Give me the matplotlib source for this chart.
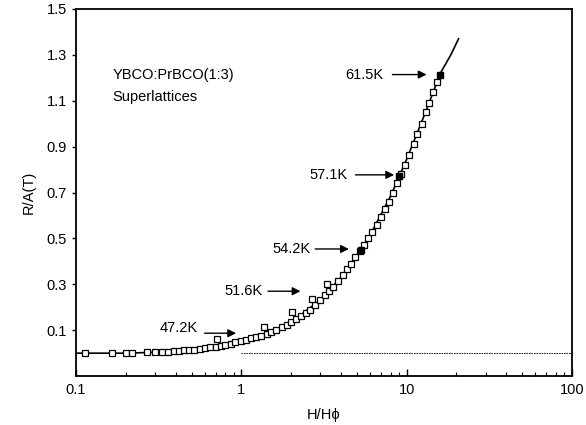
import numpy as np
import matplotlib
matplotlib.use("Agg")
import matplotlib.pyplot as plt
from matplotlib.ticker import NullFormatter

# --- data ---
h_open = [0.113, 0.165, 0.2, 0.218, 0.27, 0.3, 0.33, 0.36, 0.39, 0.42, 0.45,
          0.48, 0.52, 0.56, 0.6, 0.65, 0.7, 0.75, 0.8, 0.86, 0.92, 1.0, 1.07,
          1.15, 1.23, 1.32, 1.42, 1.52, 1.63, 1.75, 1.88, 2.0, 2.15, 2.3, 2.45,
          2.6, 2.8, 3.0, 3.2, 3.4, 3.6, 3.85, 4.1, 4.35, 4.6, 4.9, 5.2, 5.5,
          5.85, 6.2, 6.6, 7.0, 7.4, 7.8, 8.3, 8.8, 9.3, 9.8, 10.4, 11.0, 11.6,
          12.3, 13.0, 13.7, 14.5, 15.3]
r_open = [0.0, 0.0, 0.0, 0.0, 0.003, 0.004, 0.005, 0.007, 0.008, 0.01, 0.012,
          0.014, 0.016, 0.019, 0.022, 0.025, 0.029, 0.033, 0.037, 0.042, 0.047,
          0.053, 0.058, 0.064, 0.07, 0.077, 0.085, 0.093, 0.102, 0.112, 0.123,
          0.134, 0.148, 0.162, 0.176, 0.19, 0.21, 0.232, 0.252, 0.272, 0.29,
          0.315, 0.34, 0.365, 0.39, 0.42, 0.445, 0.47, 0.5, 0.53, 0.56, 0.593,
          0.627, 0.66, 0.7, 0.74, 0.78, 0.82, 0.865, 0.91, 0.955, 1.0, 1.05,
          1.09, 1.14, 1.18]

# offset squares of the lowest temperature set
h_offset = [0.71, 1.37, 2.03, 2.66, 3.3]
r_offset = [0.06, 0.114, 0.18, 0.235, 0.30]

# filled squares at the marked temperatures
h_filled = [5.3, 8.95, 16.0]
r_filled = [0.45, 0.77, 1.21]

# scaling curve
h_curve = [0.1, 0.2, 0.3, 0.5, 0.7, 1.0, 1.5, 2.0, 3.0, 4.0, 5.0, 6.0, 8.0,
           10.0, 13.0, 16.0, 18.5, 20.6]
r_curve = [0.0, 0.0, 0.004, 0.015, 0.029, 0.053, 0.092, 0.134, 0.232, 0.33,
           0.428, 0.513, 0.685, 0.845, 1.05, 1.22, 1.3, 1.37]

temps = ["47.2K", "51.6K", "54.2K", "57.1K", "61.5K"]

plt.rcParams["font.family"] = ["Liberation Sans", "DejaVu Sans"]

fig = plt.figure(figsize=(5.86, 4.25), dpi=100)
ax = fig.add_axes([0.1297, 0.115, 0.8464, 0.864])

ax.plot(h_curve, r_curve, color="black", lw=1.2, zorder=2)
ax.plot([1.0, 100], [0.0, 0.0], color="black", lw=0.6, ls=(0, (2, 1)), zorder=1)
ax.plot(h_open, r_open, ls="none", marker="s", ms=5, mfc="white", mec="black",
        mew=0.9, zorder=3)
ax.plot(h_offset, r_offset, ls="none", marker="s", ms=5, mfc="white",
        mec="black", mew=0.9, zorder=3)
ax.plot(h_filled, r_filled, ls="none", marker="s", ms=5, mfc="black",
        mec="black", zorder=4)

ax.set_xscale("log")
ax.set_xlim(0.1, 100)
ax.set_ylim(-0.1, 1.5)

ax.set_yticks([0.1, 0.3, 0.5, 0.7, 0.9, 1.1, 1.3, 1.5])
ax.set_yticklabels(["0.1", "0.3", "0.5", "0.7", "0.9", "1.1", "1.3", "1.5"])
ax.set_xticks([0.1, 1, 10, 100])
ax.set_xticklabels(["0.1", "1", "10", "100"])
ax.xaxis.set_minor_formatter(NullFormatter())

ax.tick_params(axis="y", direction="out", length=3, width=1, labelsize=10.5)
ax.tick_params(axis="x", which="major", direction="in", length=5, width=1,
               labelsize=10.5, pad=5)
ax.tick_params(axis="x", which="minor", direction="in", length=3, width=0.8)
for s in ax.spines.values():
    s.set_linewidth(1.3)

ax.set_xlabel("H/H\u03d5", fontsize=10.5, labelpad=8)
ax.set_ylabel("R/A(T)", fontsize=10.5, labelpad=8)

ax.text(0.167, 1.214, "YBCO:PrBCO(1:3)", fontsize=10.5, ha="left", va="center")
ax.text(0.167, 1.118, "Superlattices", fontsize=10.5, ha="left", va="center")

# arrow labels: text position, arrow tail, arrow tip
label_pos = [(0.32, 0.11), (0.79, 0.27), (1.55, 0.454), (2.57, 0.777), (4.27, 1.214)]
arrow_tail = [(0.6, 0.087), (1.45, 0.27), (2.8, 0.454), (4.9, 0.777), (8.2, 1.214)]
arrow_tip = [(0.93, 0.087), (2.28, 0.27), (4.47, 0.454), (8.4, 0.777), (13.2, 1.214)]
for t, p, a, b in zip(temps, label_pos, arrow_tail, arrow_tip):
    ax.text(p[0], p[1], t, fontsize=10.5, ha="left", va="center")
    ax.annotate("", xy=b, xytext=a,
                arrowprops=dict(arrowstyle="-|>", color="black", lw=1,
                                mutation_scale=12, shrinkA=0, shrinkB=0))

fig.savefig("out.png", dpi=100)
